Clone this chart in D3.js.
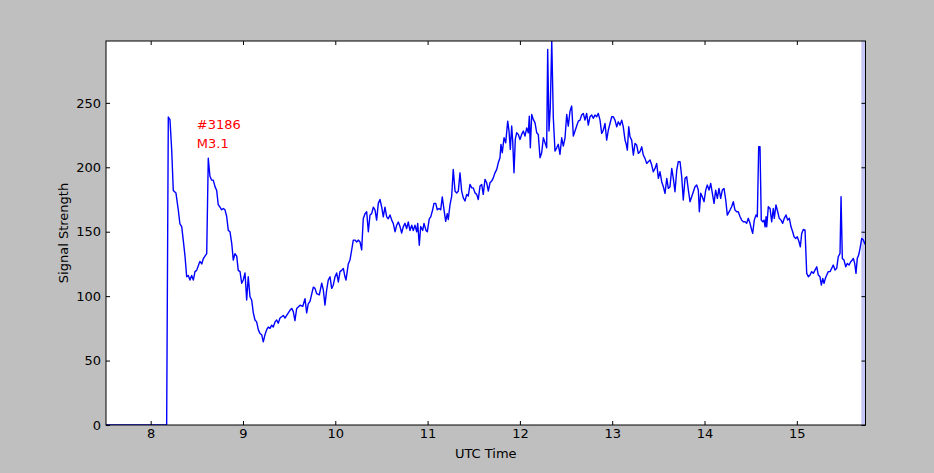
<!DOCTYPE html>
<html>
<head>
<meta charset="utf-8">
<script src="https://cdn.jsdelivr.net/npm/d3@7"></script>
<style>
  html, body { margin: 0; padding: 0; background: #bfbfbf; }
  svg { display: block; font-family: "DejaVu Sans", sans-serif; }
  .tick line { stroke: #000; }
  .tick text { fill: #000; font-size: 13px; }
</style>
</head>
<body>
<div id="chart"></div>
<script>
// UTC time in decimal hours
var times = [
  7.516, 8.173, 8.191, 8.209, 8.228, 8.245, 8.274, 8.299, 8.317, 8.336, 8.353, 8.372, 8.390, 8.407, 8.426, 8.444,
  8.462, 8.480, 8.498, 8.534, 8.553, 8.570, 8.588, 8.607, 8.624, 8.642, 8.661, 8.678, 8.697, 8.715, 8.732, 8.751,
  8.769, 8.787, 8.805, 8.823, 8.841, 8.859, 8.878, 8.895, 8.913, 8.932, 8.949, 8.968, 8.986, 9.003, 9.022, 9.040,
  9.057, 9.076, 9.094, 9.112, 9.130, 9.148, 9.166, 9.184, 9.203, 9.220, 9.238, 9.257, 9.274, 9.293, 9.311, 9.328,
  9.347, 9.365, 9.382, 9.401, 9.419, 9.437, 9.455, 9.473, 9.491, 9.509, 9.528, 9.545, 9.563, 9.582, 9.618, 9.647,
  9.672, 9.690, 9.707, 9.726, 9.762, 9.780, 9.798, 9.827, 9.853, 9.870, 9.888, 9.907, 9.924, 9.943, 9.961, 9.978,
  9.997, 10.015, 10.033, 10.051, 10.069, 10.087, 10.105, 10.116, 10.141, 10.159, 10.178, 10.195, 10.213, 10.232, 10.249, 10.268,
  10.286, 10.303, 10.322, 10.340, 10.358, 10.376, 10.394, 10.412, 10.430, 10.448, 10.466, 10.484, 10.503, 10.520, 10.538, 10.557,
  10.574, 10.593, 10.611, 10.628, 10.647, 10.665, 10.683, 10.701, 10.719, 10.737, 10.755, 10.773, 10.791, 10.809, 10.828, 10.845,
  10.863, 10.882, 10.893, 10.910, 10.925, 10.947, 10.961, 10.983, 10.997, 11.018, 11.034, 11.055, 11.069, 11.088, 11.105, 11.124,
  11.142, 11.159, 11.178, 11.196, 11.213, 11.224, 11.243, 11.261, 11.278, 11.297, 11.315, 11.333, 11.351, 11.369, 11.387, 11.405,
  11.424, 11.441, 11.459, 11.478, 11.495, 11.514, 11.532, 11.549, 11.568, 11.586, 11.603, 11.622, 11.640, 11.658, 11.676, 11.694,
  11.712, 11.730, 11.749, 11.766, 11.784, 11.795, 11.809, 11.828, 11.846, 11.868, 11.882, 11.896, 11.911, 11.922, 11.936, 11.950,
  11.965, 11.983, 12.001, 12.019, 12.037, 12.055, 12.074, 12.091, 12.102, 12.113, 12.128, 12.145, 12.164, 12.182, 12.199, 12.218,
  12.236, 12.254, 12.272, 12.290, 12.301, 12.315, 12.329, 12.345, 12.362, 12.380, 12.399, 12.416, 12.434, 12.453, 12.470, 12.489,
  12.507, 12.524, 12.543, 12.561, 12.579, 12.597, 12.615, 12.633, 12.651, 12.669, 12.687, 12.705, 12.723, 12.741, 12.759, 12.778,
  12.795, 12.813, 12.832, 12.849, 12.868, 12.886, 12.904, 12.922, 12.940, 12.958, 12.976, 12.995, 13.012, 13.030, 13.049, 13.066,
  13.085, 13.103, 13.120, 13.139, 13.150, 13.164, 13.179, 13.193, 13.211, 13.229, 13.247, 13.265, 13.283, 13.301, 13.320, 13.337,
  13.355, 13.374, 13.391, 13.410, 13.428, 13.445, 13.464, 13.482, 13.500, 13.518, 13.536, 13.554, 13.572, 13.591, 13.608, 13.626,
  13.645, 13.662, 13.680, 13.699, 13.716, 13.735, 13.753, 13.770, 13.789, 13.807, 13.825, 13.843, 13.861, 13.879, 13.897, 13.915,
  13.933, 13.944, 13.959, 13.976, 13.995, 14.013, 14.030, 14.049, 14.067, 14.085, 14.103, 14.121, 14.139, 14.157, 14.175, 14.193,
  14.211, 14.230, 14.247, 14.276, 14.294, 14.312, 14.330, 14.349, 14.366, 14.385, 14.403, 14.420, 14.439, 14.457, 14.474, 14.493,
  14.511, 14.522, 14.539, 14.558, 14.572, 14.587, 14.601, 14.615, 14.631, 14.645, 14.656, 14.667, 14.674, 14.691, 14.710, 14.728,
  14.745, 14.756, 14.774, 14.793, 14.810, 14.829, 14.847, 14.864, 14.883, 14.901, 14.919, 14.937, 14.955, 14.970, 14.988, 15.005,
  15.024, 15.038, 15.053, 15.070, 15.089, 15.107, 15.125, 15.143, 15.161, 15.179, 15.197, 15.216, 15.233, 15.251, 15.266, 15.281,
  15.295, 15.309, 15.324, 15.341, 15.360, 15.378, 15.395, 15.414, 15.432, 15.449, 15.468, 15.479, 15.493, 15.511, 15.530, 15.547,
  15.565, 15.584, 15.601, 15.612, 15.627, 15.641, 15.655, 15.670, 15.685, 15.703, 15.720, 15.735, 15.744
];

var strength = [
  0, 0, 239, 237, 213, 182, 180, 167, 156, 154, 143.5, 131, 115, 116, 112.5, 116,
  112.5, 119, 120, 127, 125, 129, 131, 133, 207, 193, 190, 190, 185, 182, 171, 169,
  167, 168, 167, 162, 151, 150, 141, 128, 133, 131, 120, 119, 110, 112.5, 118, 97,
  115, 99.5, 97, 87, 81.5, 80, 74, 71, 70, 64.5, 70, 74, 76, 75, 77.5, 76,
  80, 81.5, 79, 83, 84, 85, 83, 85, 87, 89, 90.5, 88, 81, 90.5, 93, 92,
  98, 87, 94, 96, 107, 106, 102, 101, 110, 105, 93, 105, 112.5, 115, 106, 108.5,
  115, 118, 111, 119, 120, 121.5, 115, 112.5, 125, 128, 136, 143.5, 143.5, 142, 143.5, 142,
  136, 160, 164, 165.5, 150, 163, 164, 169, 167, 159, 172, 175, 169, 161.5, 169, 161.5,
  160, 163, 159, 156.5, 150, 155, 157.5, 154, 149, 154, 156.5, 152.5, 157.5, 151, 155, 151,
  155, 150, 156.5, 139.5, 154, 151, 156.5, 151, 150, 160, 161.5, 167, 172, 172, 167, 168,
  167, 177, 167, 158, 164, 159.5, 171, 177.7, 198.4, 181.5, 180, 181.5, 195.7, 181.5, 176.3, 173.8,
  179, 177.7, 186.7, 184, 184, 180, 179, 175, 185.4, 186.7, 179, 190.6, 188, 181.5, 188, 189.3,
  191.8, 195.7, 198.4, 203.5, 207.4, 217.8, 211.3, 222.9, 219, 235.8, 228.1, 213.9, 232, 220.3, 195.7, 221.6,
  226.8, 225.5, 221.6, 225.5, 228.1, 224.2, 230.6, 226.8, 239.7, 215.1, 241, 237.2, 234.5, 226.8, 225.5, 207.4,
  211.3, 222.9, 219, 215.1, 291.5, 228.1, 246.2, 298, 238.4, 212.6, 215.1, 217.8, 210, 222.9, 216.4, 222.9,
  241, 232, 243.6, 247.5, 224.2, 228.1, 232, 235.8, 236.6, 240.5, 241.8, 236.6, 241.8, 232.7, 239.2, 240.5,
  238, 240.5, 239.2, 241.8, 236.6, 226.3, 228.8, 234, 221.1, 228.8, 234, 239.2, 239.2, 236.6, 231.4, 235.3,
  232.7, 236.6, 231.4, 221.1, 218.5, 213.3, 231.4, 223.7, 221.1, 209.5, 218.5, 217.2, 210.8, 212, 215.9, 209.5,
  206.9, 203, 204.3, 205.6, 201.7, 196.5, 199.1, 203, 191.4, 196.5, 188.8, 184.9, 179.8, 191.4, 183.6, 184.9,
  199.1, 191.4, 181, 197.8, 204.3, 204.3, 192.6, 174.6, 191.4, 192.6, 182.3, 173.3, 177.1, 181, 184.9, 186.2,
  182.3, 165.5, 179.8, 177.1, 173.3, 182.3, 186.2, 182.3, 187.5, 179.8, 172, 182.3, 175.9, 183.6, 175.9, 182.3,
  183.6, 174.6, 162.9, 166.8, 169.4, 173.3, 166.8, 165.5, 165.5, 161.6, 159, 157.7, 157.7, 156.5, 160.4, 156.5,
  151.3, 148.7, 159, 163, 161.6, 215.9, 215.9, 159, 157.7, 159, 153.8, 161.6, 153.8, 169.4, 168, 157.7,
  168, 160.4, 170.7, 165.5, 160.4, 159, 156.5, 160.4, 163, 159, 160.4, 153.8, 150, 146.1, 144.8, 146.1,
  142.2, 138.3, 148.7, 151.8, 151.3, 117.7, 115, 116.4, 119, 117.7, 120.2, 122.8, 116.4, 115, 108.6, 113.8,
  109.9, 113.8, 116.4, 119, 119, 121.6, 124.1, 120.2, 121.6, 130.6, 133.2, 177.1, 129.3, 128, 122.8, 125.4,
  124.1, 126.7, 128, 129.3, 125.4, 117.7, 129.3, 131.9, 137.1, 144.8, 143.5, 141, 140
];

var xTicks = [8, 9, 10, 11, 12, 13, 14, 15];
var yTicks = [0, 50, 100, 150, 200, 250];
var xRange = [7.516, 15.744];
var yRange = [0, 298];
var spanRange = [15.699, 15.744];
var noteX = 8.5, noteY = 215;
var noteLines = ["#3186", "M3.1"];

var margin = { top: 41, right: 68.5, bottom: 48, left: 106 },
    W = 934, H = 473,
    width = W - margin.left - margin.right,
    height = H - margin.top - margin.bottom;

var svg = d3.select("#chart").append("svg")
    .attr("width", W)
    .attr("height", H);

var g = svg.append("g")
    .attr("transform", "translate(" + margin.left + "," + margin.top + ")");

var x = d3.scaleLinear().domain(xRange).range([0, width]);
var y = d3.scaleLinear().domain(yRange).range([height, 0]);

g.append("rect")
    .attr("width", width)
    .attr("height", height)
    .attr("fill", "#fff");

g.append("clipPath").attr("id", "clip")
    .append("rect").attr("width", width).attr("height", height);

// shaded span at the end
g.append("rect")
    .attr("x", x(spanRange[0]))
    .attr("y", 0)
    .attr("width", x(spanRange[1]) - x(spanRange[0]))
    .attr("height", height)
    .attr("fill", "#3030e0")
    .attr("fill-opacity", 0.28);

var pts = times.map(function (t, i) { return { t: t, v: strength[i] }; });

var line = d3.line()
    .x(function (d) { return x(d.t); })
    .y(function (d) { return y(d.v); });

g.append("path")
    .datum(pts)
    .attr("clip-path", "url(#clip)")
    .attr("fill", "none")
    .attr("stroke", "#0000ff")
    .attr("stroke-width", 1.4)
    .attr("stroke-linejoin", "round")
    .attr("d", line);

// axes, ticks pointing inward
var axB = g.append("g").attr("transform", "translate(0," + height + ")")
    .call(d3.axisBottom(x).tickValues(xTicks).tickSize(-4).tickPadding(4).tickFormat(d3.format("d")));
var axL = g.append("g")
    .call(d3.axisLeft(y).tickValues(yTicks).tickSize(-4).tickPadding(5).tickFormat(d3.format("d")));
var axT = g.append("g")
    .call(d3.axisTop(x).tickValues(xTicks).tickSize(-4).tickFormat(""));
var axR = g.append("g").attr("transform", "translate(" + width + ",0)")
    .call(d3.axisRight(y).tickValues(yTicks).tickSize(-4).tickFormat(""));

[axB, axL, axT, axR].forEach(function (a) {
    a.select(".domain").remove();
    a.attr("font-family", null).attr("font-size", null);
});

g.append("rect")
    .attr("width", width)
    .attr("height", height)
    .attr("fill", "none")
    .attr("stroke", "#000")
    .attr("stroke-width", 1);

// annotation
var note = g.append("text")
    .attr("x", x(noteX))
    .attr("y", y(noteY))
    .attr("fill", "#ff0000")
    .attr("font-size", "13px");
noteLines.forEach(function (s, i) {
    note.append("tspan")
        .attr("x", x(noteX))
        .attr("dy", i === 0 ? -19 : 19)
        .text(s);
});

// axis labels
svg.append("text")
    .attr("x", margin.left + width / 2)
    .attr("y", 458)
    .attr("text-anchor", "middle")
    .attr("font-size", "13px")
    .text("UTC Time");

svg.append("text")
    .attr("transform", "translate(68," + (margin.top + height / 2) + ") rotate(-90)")
    .attr("text-anchor", "middle")
    .attr("font-size", "13px")
    .text("Signal Strength");
</script>
</body>
</html>
